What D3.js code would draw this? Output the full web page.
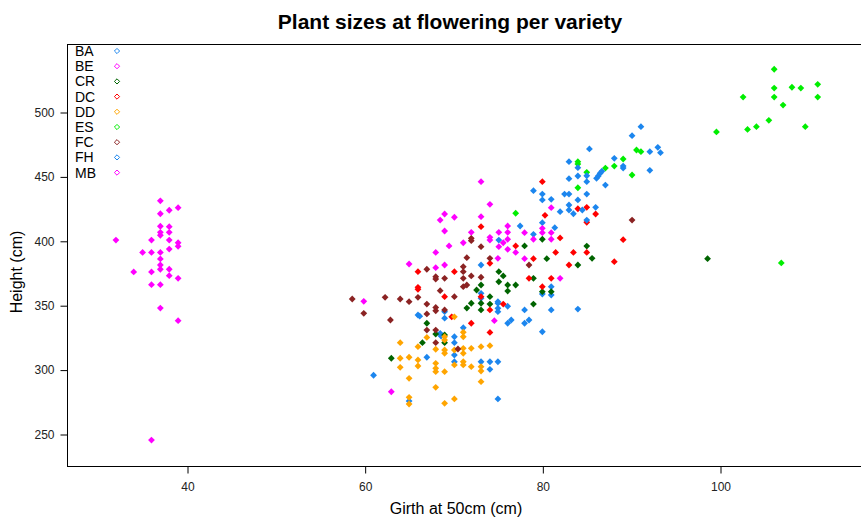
<!DOCTYPE html>
<html>
<head>
<meta charset="utf-8">
<script src="https://cdn.jsdelivr.net/npm/d3@7"></script>
<style>
  html, body { margin: 0; padding: 0; background: #fff; }
  svg { display: block; }
</style>
</head>
<body>
<svg id="chart" width="861" height="518"></svg>
<script>
// ---- data ----
const varieties = ["BA", "BE", "CR", "DC", "DD", "ES", "FC", "FH", "MB"];
const colors = ["#1c86ee", "#ff00ff", "#006400", "#ff0000", "#ffa500", "#00ee00", "#8b2323", "#1c86ee", "#ff00ff"];
const xTicks = [40, 60, 80, 100];
const yTicks = [250, 300, 350, 400, 450, 500];

const BA = [[61,295.6],[65,275.6],[66,342.4],[66.2,341.5],[67,309.6],[68.5,328.2],[68.6,326],[69,345],[69,339.9],
  [70.1,325.5],[70.1,320.9],[70.1,311.3],[70.1,306.1],[71.1,332.5],[73.1,306.1],[74.1,306.1],[75,306.1],[74.1,300.2],
  [75,277.2],[73.1,359.2],[73.1,355.3],[73.1,381.2],[75,352.7],[75,351.5],[75,347.6],[75,345],[76.1,349.2],[76.5,338.5],
  [76.1,336],[78,346.3],[78.5,338.5],[78,336],[80,329.4],[81,346.3],[80,358.7],[81,364.4],[81,357.9],[75.1,400.6],
  [79,405],[77.5,411.5],[80,414.1]];
const BE = [[59.9,353],[63,282.8],[65,382],[68,391],[68,379.1],[68.5,416.1],[69,420.8],[69,407.6],[69,381.2],[69.5,396],
  [70.1,418.3],[71.1,398.5],[72,406.6],[73.1,445.9],[73.1,418.7],[74.1,428.3],[74.1,402.7],[74.1,400.6],[74.6,338],
  [75,386.4],[75.1,406.6],[75.1,395.4],[75.6,398.5],[76.1,411.5],[76.1,406.6],[76.1,401.2],[76.1,393.4],[77,391],
  [78,406.3],[78,386.1],[79,401.2],[80,409.7],[80,406.3],[81,406.3],[81,401.2],[81,425.7],[82,370.9]];
const CR = [[63,308.8],[66.5,320.9],[67,336],[68,327.6],[69,326.9],[69,320.9],[72,351.5],[71.5,347.8],[73.1,346.3],
  [74.1,350.9],[74.1,356.6],[73.1,351.5],[72.6,361.8],[73.1,365.7],[75.1,376],[75.6,372.7],[75.1,368.2],[76.1,365.7],
  [77,365.7],[76.1,361],[79,350.9],[79,370.9],[80,360.5],[81,360.5],[80.5,386.1],[78,396],[80,401.2],[85,395.9],
  [85.6,386.4],[84,381.2],[98.6,386.1]];
const DC = [[66,376],[66,363.9],[66,362.3],[69,356.6],[69.8,341],[70.1,376],[72,336],[73.1,356.6],[73.1,411],[74.1,382.5],
  [74.1,346.3],[74.1,328.9],[75.6,350.9],[77,396],[78.5,370.9],[79,386.1],[80,364.4],[81,370.9],[80,445.9],[80.3,419.8],
  [82,402.2],[81.5,391],[83.5,391],[85,391],[83,381.2],[84,424.9],[85,426],[86,420.8],[85,414.4],[88.1,383.8],[89.1,400.9]];
const DD = [[64,320.9],[64,308.8],[64,301.8],[65,309.6],[65,293.2],[65,278.5],[65,273.3],[66,317.8],[66,307.5],[66,302.8],
  [67,325],[68,315.8],[68,304.9],[68,301],[68,298.4],[68,286.2],[69,325.6],[69,323],[69,315.2],[69,312.7],[69,298.4],
  [69,273.8],[70.1,341],[70.1,315.2],[70.1,303.6],[70.1,277.2],[71.1,329],[71.1,325.5],[71.1,316.5],[71.1,312.6],
  [71.1,306.1],[71.1,303.6],[72,316.5],[72,302.3],[73.1,317.8],[73.1,302.3],[73.1,298.9],[73.1,290.6],[74.1,318.6]];
const ES = [[77,421.4],[84,461.4],[84,459.6],[85,453.2],[84,441.2],[87.1,456.5],[88.1,458],[89.1,463.5],[90.6,470.5],
  [91.1,469.2],[90.1,451.1],[99.6,484.5],[102.6,511.6],[103.1,486.5],[104.1,488.6],[105.5,493.5],[106.1,533.2],
  [106.1,518.6],[106.1,511.6],[107.1,505.4],[108.1,519.2],[109.1,518.6],[109.6,488.6],[111,521.5],[111,511.6],[106.9,382.8]];
const FC = [[58.6,354.8],[59.9,343.7],[62.3,356.1],[62.9,338.5],[64,354.8],[65,352.7],[66,356.1],[67,377.9],[67,350.9],
  [67,343.2],[67,330.7],[68,372.1],[68,370.3],[68,348.3],[68,345.7],[68,330.7],[68,320.9],[68.5,361.3],[69,370.9],
  [69,346.3],[70.1,356.6],[70.5,316],[71.1,379.9],[71.1,376],[71.1,370.9],[71.1,364.4],[71.5,365.7],[71.5,386.9],
  [72,401.9],[72,400.1],[72,372.7],[73.1,395.4],[73.1,371.7],[74.1,386.4],[78.5,381.2],[90.1,416.1]];
const FH = [[79,438.9],[80,436.3],[80,431.7],[81,432.2],[82,422.6],[81.4,410.2],[83,461.4],[84,456.8],[84,450.3],
  [85,450.5],[85,445.9],[83,448.2],[85.3,471.3],[88.1,464],[89.1,458],[89.1,456.5],[90.1,481.6],[91.1,488.6],
  [92.1,469.2],[93,472.6],[93.3,468.4],[92.1,454.7],[86.1,448.5],[86.3,450.3],[86.5,452.4],[86.7,454],[87.1,443.3],
  [85,436.3],[82.5,436.3],[83,436.3],[84,431.7],[83,427.8],[83,423.9],[83.5,421],[84.5,423.9],[86,426],[85,416.1],[84,347]];
const MB = [[37,431],[38,423.7],[39,425.7],[37,421],[37,411.3],[38,411],[37,406.6],[38,406.6],[37,404.3],[32,400.6],
  [36,400.6],[38,400.6],[39,398.5],[39,395.7],[38,393.6],[35,391],[36,391],[37,391],[37,385.9],[37,381.2],[37,377.9],
  [38,377.9],[34,375.8],[36,375.8],[38,372.9],[39,370.9],[36,365.9],[37,365.9],[37,347.8],[39,338],[36,245.3]];
const seriesValues = [BA, BE, CR, DC, DD, ES, FC, FH, MB];

// ---- layout ----
const svg = d3.select("#chart");
const plot = { left: 67, top: 44, right: 875, bottom: 466 };
const x = d3.scaleLinear().domain([40, 100]).range([187, 720]);
const y = d3.scaleLinear().domain([250, 500]).range([434, 112]);
const sans = "Liberation Sans, Arial, sans-serif";

// title
svg.append("text")
  .attr("x", 450).attr("y", 29)
  .attr("text-anchor", "middle")
  .attr("font-family", sans)
  .attr("font-weight", "bold")
  .attr("font-size", 21)
  .text("Plant sizes at flowering per variety");

// frame
svg.append("rect")
  .attr("x", plot.left + 0.5).attr("y", plot.top + 0.5)
  .attr("width", plot.right - plot.left).attr("height", plot.bottom - plot.top)
  .attr("fill", "none").attr("stroke", "#000").attr("stroke-width", 1);

const tickFont = "Liberation Sans Narrow, Arial Narrow, Liberation Sans, sans-serif";

// axes
const xAxis = svg.append("g")
  .attr("transform", `translate(0.5,${plot.bottom + 0.5})`)
  .call(d3.axisBottom(x).tickValues(xTicks).tickSize(7).tickPadding(9).tickFormat(d3.format("d")));
const yAxis = svg.append("g")
  .attr("transform", `translate(${plot.left + 0.5},0.5)`)
  .call(d3.axisLeft(y).tickValues(yTicks).tickSize(7).tickPadding(6).tickFormat(d3.format("d")));
[xAxis, yAxis].forEach(a => {
  a.select(".domain").remove();
  a.selectAll("text").attr("font-family", tickFont).attr("font-size", 12).attr("fill", "#222");
  a.selectAll("line").attr("stroke", "#000");
});

// axis titles
svg.append("text")
  .attr("x", 456).attr("y", 514)
  .attr("text-anchor", "middle")
  .attr("font-family", sans)
  .attr("font-size", 16)
  .text("Girth at 50cm (cm)");
svg.append("text")
  .attr("transform", "translate(22,272) rotate(-90)")
  .attr("text-anchor", "middle")
  .attr("font-family", sans)
  .attr("font-size", 16)
  .text("Height (cm)");

// points
const diamond = (cx, cy, r) => `M${cx},${cy - r}L${cx + r},${cy}L${cx},${cy + r}L${cx - r},${cy}Z`;
svg.append("clipPath").attr("id", "clip").append("rect")
  .attr("x", plot.left).attr("y", plot.top).attr("width", plot.right - plot.left).attr("height", plot.bottom - plot.top);
const pts = svg.append("g").attr("clip-path", "url(#clip)");
seriesValues.forEach((vals, i) => {
  pts.append("g").selectAll("path")
    .data(vals)
    .join("path")
    .attr("d", d => diamond(x(d[0]), y(d[1]), 3.4))
    .attr("fill", colors[i]);
});

// legend
const legend = svg.append("g");
varieties.forEach((v, i) => {
  const cy = 51 + i * 15.2;
  legend.append("text")
    .attr("x", 75).attr("y", cy + 5)
    .attr("font-family", sans)
    .attr("font-size", 14)
    .text(v);
  legend.append("path")
    .attr("d", diamond(117, cy, 2.6))
    .attr("fill", "none")
    .attr("stroke", colors[i])
    .attr("stroke-width", 1);
});
</script>
</body>
</html>
